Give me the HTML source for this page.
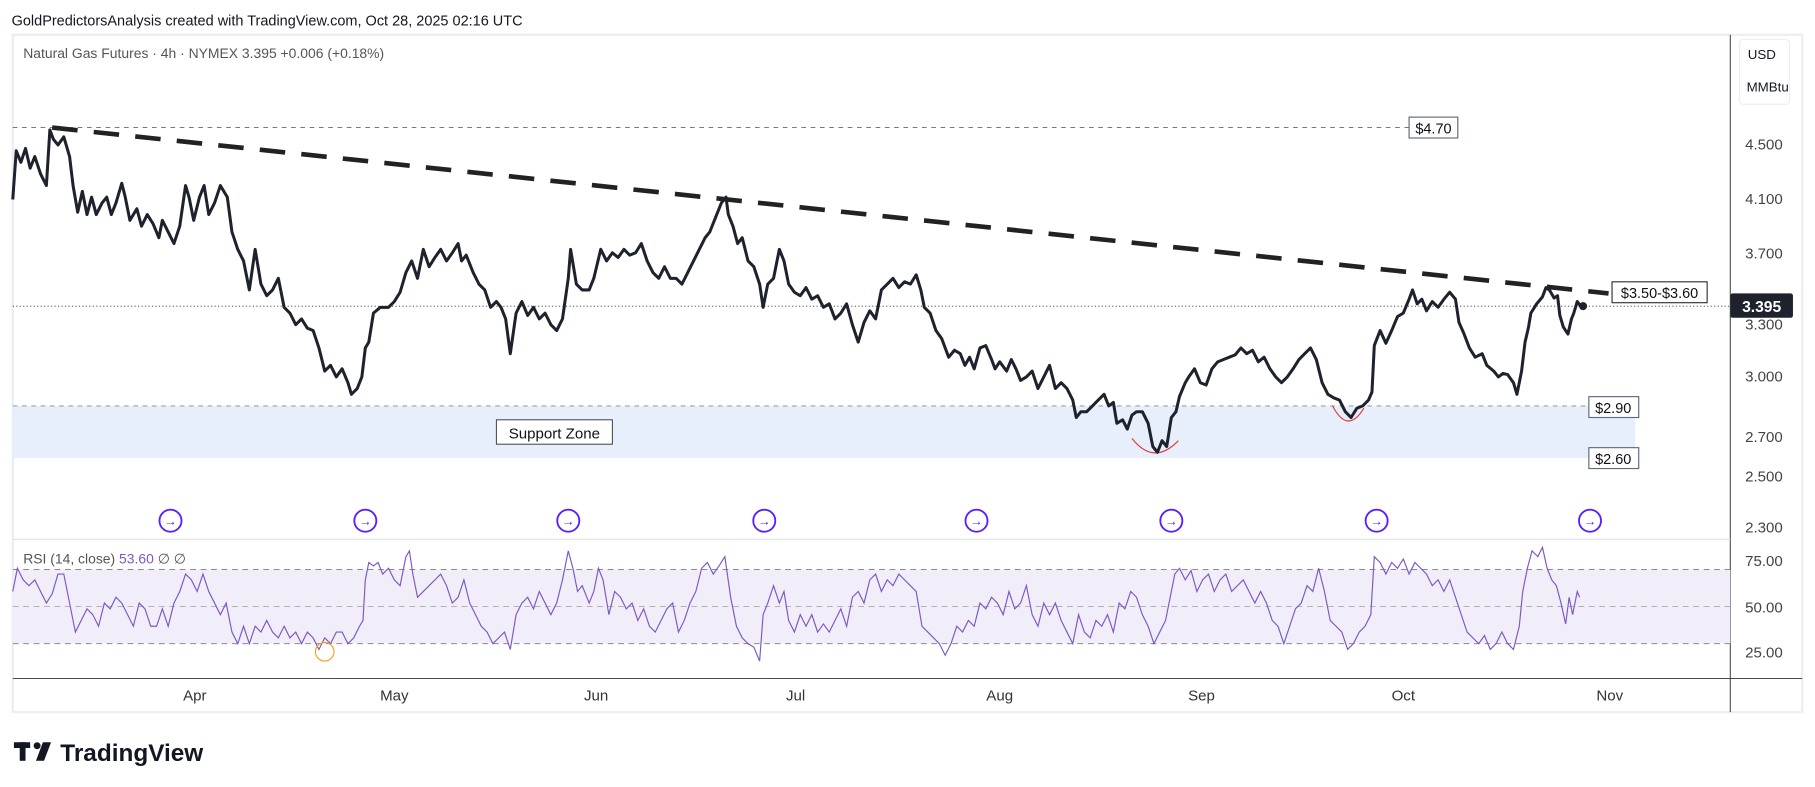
<!DOCTYPE html>
<html><head><meta charset="utf-8"><style>
html,body{margin:0;padding:0;background:#fff;}
svg{display:block;font-family:"Liberation Sans",sans-serif;}
</style></head><body>
<svg width="1815" height="787" viewBox="0 0 1565 678.6" xmlns="http://www.w3.org/2000/svg">
<rect width="1565" height="679" fill="#fff"/>
<text x="10" y="22" font-size="12.5" fill="#131722">GoldPredictorsAnalysis created with TradingView.com, Oct 28, 2025 02:16 UTC</text>
<!-- frame -->
<rect x="11" y="30" width="1543" height="584" fill="#fff" stroke="#eceef2" stroke-width="2"/>
<line x1="1492" y1="30" x2="1492" y2="614" stroke="#555" stroke-width="1"/>
<line x1="11" y1="465" x2="1492" y2="465" stroke="#e0e3eb" stroke-width="1"/>
<line x1="11" y1="585" x2="1554" y2="585" stroke="#333" stroke-width="0.8"/>
<text x="20" y="50" font-size="12" fill="#555">Natural Gas Futures · 4h · NYMEX  3.395  +0.006 (+0.18%)</text>
<!-- USD box -->
<rect x="1500" y="34" width="43" height="56" rx="3" fill="#fff" stroke="#eceef2"/>
<text x="1507" y="51" font-size="11.5" fill="#131722">USD</text>
<text x="1506" y="79" font-size="11.5" fill="#131722">MMBtu</text>
<!-- price labels -->
<g font-size="13" fill="#444" text-anchor="middle">
<text x="1521" y="129">4.500</text><text x="1521" y="176">4.100</text><text x="1521" y="223">3.700</text>
<text x="1521" y="284">3.300</text><text x="1521" y="329">3.000</text><text x="1521" y="381">2.700</text>
<text x="1521" y="415">2.500</text><text x="1521" y="459">2.300</text>
<text x="1521" y="488">75.00</text><text x="1521" y="528">50.00</text><text x="1521" y="567">25.00</text>
</g>
<!-- support zone -->
<rect x="11" y="350" width="1399" height="45" fill="#e8effc"/>
<line x1="11" y1="350" x2="1370" y2="350" stroke="#888" stroke-dasharray="4,4" stroke-width="0.8"/>
<rect x="428" y="362" width="100" height="21" fill="#fff" stroke="#333" stroke-width="0.8"/>
<text x="478" y="378" font-size="13" fill="#111" text-anchor="middle">Support Zone</text>
<rect x="1370" y="342" width="43" height="18" fill="#fff" stroke="#5d6b7e"/>
<text x="1391" y="356" font-size="12.5" fill="#111" text-anchor="middle">$2.90</text>
<rect x="1370" y="386" width="43" height="18" fill="#fff" stroke="#5d6b7e"/>
<text x="1391" y="400" font-size="12.5" fill="#111" text-anchor="middle">$2.60</text>
<!-- 4.70 line -->
<line x1="11" y1="110" x2="1215" y2="110" stroke="#666" stroke-dasharray="4,4" stroke-width="0.8"/>
<rect x="1215" y="101" width="42" height="18" fill="#fff" stroke="#5d6b7e"/>
<text x="1236" y="115" font-size="12.5" fill="#111" text-anchor="middle">$4.70</text>
<!-- last price line -->
<line x1="11" y1="264" x2="1492" y2="264" stroke="#333" stroke-dasharray="1,2" stroke-width="0.8"/>
<!-- trendline -->
<line x1="45" y1="110" x2="1387" y2="253" stroke="#222" stroke-width="4" stroke-dasharray="22,14"/>
<rect x="1390" y="243" width="82" height="18" fill="#fff" stroke="#333"/>
<text x="1431" y="257" font-size="12.5" fill="#111" text-anchor="middle">$3.50-$3.60</text>
<!-- smiles -->
<path d="M976,378 Q995,402 1016,380" fill="none" stroke="#e53935" stroke-width="1"/>
<path d="M1149,350 Q1162,375 1176,352" fill="none" stroke="#e53935" stroke-width="1"/>
<!-- price -->
<polyline fill="none" stroke="#1e222d" stroke-width="2.6" stroke-linejoin="round" points="11,172 14,130 18,140 22,128 26,145 30,135 35,150 40,160 43,112 46,120 50,125 55,118 60,135 63,160 67,183 71,165 75,185 79,170 83,185 88,175 92,170 96,185 100,175 105,158 108,170 112,190 118,180 122,195 127,185 132,193 137,205 140,190 145,200 150,210 155,195 160,160 163,170 167,190 172,170 176,160 180,185 185,175 190,160 196,170 200,200 205,215 210,225 215,250 220,215 225,245 230,255 235,250 240,240 245,265 250,270 255,280 260,275 265,283 270,285 275,300 280,320 285,315 290,325 295,318 300,330 303,340 308,335 312,325 315,300 318,295 322,270 328,265 335,265 340,260 345,252 350,235 355,225 360,240 365,215 370,230 375,222 380,215 385,225 390,218 395,210 398,225 402,220 408,235 413,245 418,250 423,265 428,260 432,265 436,275 440,305 445,270 450,260 455,272 460,265 465,275 470,270 475,280 480,285 485,275 490,240 492,215 497,245 502,250 508,250 512,240 518,215 523,225 528,218 533,222 538,215 543,220 548,218 553,210 558,225 563,235 568,240 573,230 578,240 583,240 588,245 593,235 598,225 603,215 608,205 612,200 618,185 622,175 626,170 628,185 632,195 636,210 640,205 645,225 650,230 655,245 658,265 662,245 667,240 672,215 676,225 680,245 685,252 690,255 695,248 700,258 705,255 710,265 715,262 720,275 725,270 730,262 735,280 740,295 745,278 750,268 755,275 760,250 765,245 770,240 775,248 780,243 785,245 790,237 794,250 797,265 802,270 807,285 812,292 818,308 823,302 828,305 832,315 836,308 840,318 845,300 850,298 855,310 858,318 862,312 868,320 872,310 876,318 880,328 885,325 890,320 895,335 900,325 905,315 910,335 915,330 920,335 925,345 928,360 932,355 937,355 942,350 947,345 952,340 956,350 960,347 963,365 968,362 972,370 976,358 980,355 985,355 990,365 994,385 998,390 1002,380 1006,385 1010,360 1014,355 1017,342 1022,330 1025,325 1030,318 1035,330 1040,332 1045,318 1050,312 1055,310 1060,308 1065,306 1070,300 1075,305 1080,302 1085,312 1090,308 1095,318 1100,325 1105,330 1110,325 1115,318 1120,310 1125,305 1130,300 1135,310 1140,330 1145,340 1150,343 1155,345 1160,355 1165,360 1170,352 1175,350 1180,345 1183,338 1185,298 1190,285 1195,296 1200,285 1205,273 1210,270 1215,258 1218,250 1222,262 1226,258 1230,268 1235,260 1240,265 1245,258 1250,252 1255,258 1258,278 1262,287 1267,300 1272,308 1278,305 1282,315 1288,320 1292,325 1296,322 1300,323 1305,330 1308,340 1312,320 1315,295 1318,282 1320,270 1325,262 1330,256 1333,248 1336,250 1340,257 1343,255 1345,272 1348,282 1352,288 1355,275 1357,270 1360,260 1363,264 1366,263"/>
<circle cx="1365" cy="264" r="3.5" fill="#1e222d"/>
<rect x="1492" y="253" width="54" height="21" rx="2" fill="#1e222d"/>
<text x="1519" y="269" font-size="13.5" font-weight="bold" fill="#fff" text-anchor="middle">3.395</text>
<!-- purple icons -->
<g fill="none" stroke="#5a1fff" stroke-width="1.6">
<circle cx="147" cy="449" r="9.5"/><circle cx="315" cy="449" r="9.5"/><circle cx="490" cy="449" r="9.5"/><circle cx="659" cy="449" r="9.5"/><circle cx="842" cy="449" r="9.5"/><circle cx="1010" cy="449" r="9.5"/><circle cx="1187" cy="449" r="9.5"/><circle cx="1371" cy="449" r="9.5"/>
</g>
<g fill="#5a1fff" font-size="11" font-weight="bold" text-anchor="middle">
<text x="147" y="453">→</text><text x="315" y="453">→</text><text x="490" y="453">→</text><text x="659" y="453">→</text><text x="842" y="453">→</text><text x="1010" y="453">→</text><text x="1187" y="453">→</text><text x="1371" y="453">→</text>
</g>
<!-- RSI -->
<rect x="11" y="491" width="1481" height="64" fill="#f1eef9"/>
<g stroke="#787b86" stroke-width="0.8" stroke-dasharray="5,4">
<line x1="11" y1="491" x2="1492" y2="491"/><line x1="11" y1="523" x2="1492" y2="523" stroke="#aaa"/><line x1="11" y1="555" x2="1492" y2="555"/>
</g>
<text x="20" y="486" font-size="12" fill="#555">RSI (14, close) <tspan fill="#7e57c2">53.60</tspan>  ∅  ∅</text>
<polyline fill="none" stroke="#7e57c2" stroke-width="1" points="11,510 15,490 20,500 25,505 30,500 35,510 40,520 45,512 50,495 55,495 60,520 65,545 70,535 75,525 80,530 85,540 90,520 95,525 100,515 105,520 110,530 115,540 120,520 125,525 130,540 135,540 140,525 145,540 150,520 155,510 160,495 165,500 170,510 175,495 180,510 185,520 190,530 195,520 200,545 205,555 210,540 215,555 220,540 225,545 230,535 235,545 240,550 245,540 250,550 255,545 260,555 265,545 270,550 275,560 280,550 285,555 290,545 295,545 300,555 305,550 310,540 313,535 315,500 318,485 322,488 326,485 330,495 335,490 340,500 345,505 350,480 353,475 356,495 360,515 365,510 370,505 375,500 380,495 385,505 390,520 395,515 400,500 405,520 410,530 415,540 420,545 425,555 430,550 435,545 440,560 445,530 450,520 455,515 460,525 465,510 470,520 475,530 480,520 485,500 490,475 494,490 498,510 502,505 508,520 512,510 516,490 520,500 525,530 530,510 535,515 540,525 545,520 550,535 555,525 560,540 565,545 570,535 575,525 580,520 585,545 590,535 595,520 600,510 605,490 610,485 615,495 620,488 625,480 630,515 635,540 640,550 645,555 650,558 655,570 658,530 662,520 667,505 672,520 676,510 680,535 685,545 690,530 695,540 700,530 705,545 710,538 715,545 720,535 725,525 730,540 735,515 740,510 745,520 750,500 755,495 760,510 765,500 770,505 775,495 780,500 785,505 790,510 795,540 800,545 805,550 810,555 815,565 820,555 825,540 830,545 835,535 840,540 845,520 850,525 855,515 860,520 865,530 870,510 875,525 880,520 885,505 890,530 895,540 900,520 905,530 910,520 915,535 920,545 925,555 930,530 935,545 940,550 945,535 950,540 955,530 960,545 965,520 970,525 975,510 980,515 985,530 990,540 995,555 1000,545 1005,535 1010,510 1013,495 1017,490 1022,500 1027,492 1032,510 1037,500 1042,495 1047,510 1052,500 1057,495 1062,510 1067,505 1072,500 1077,510 1082,520 1087,510 1092,520 1097,535 1102,540 1107,555 1112,540 1117,525 1122,520 1127,505 1132,510 1137,490 1142,510 1147,535 1152,540 1157,545 1162,560 1167,555 1172,545 1177,540 1182,530 1185,480 1190,485 1195,495 1200,485 1205,490 1210,482 1215,495 1220,485 1225,490 1230,495 1235,505 1240,500 1245,510 1250,500 1255,515 1260,530 1265,545 1270,550 1275,555 1280,548 1285,560 1290,555 1295,545 1300,555 1305,560 1310,540 1313,510 1317,490 1321,475 1326,480 1330,472 1334,490 1338,500 1342,505 1346,520 1350,538 1353,515 1356,530 1360,510 1362,515"/>
<circle cx="280" cy="562" r="8" fill="none" stroke="#f7a21b" stroke-width="1"/>
<!-- months -->
<g font-size="13" fill="#333" text-anchor="middle">
<text x="168" y="604">Apr</text><text x="340" y="604">May</text><text x="514" y="604">Jun</text><text x="686" y="604">Jul</text><text x="862" y="604">Aug</text><text x="1036" y="604">Sep</text><text x="1210" y="604">Oct</text><text x="1388" y="604">Nov</text>
</g>
<!-- logo -->
<g fill="#131722">
<rect x="12" y="640" width="14" height="5"/><rect x="17" y="640" width="5" height="16"/>
<circle cx="32" cy="643" r="3"/>
<path d="M37,640 L44,640 L38,656 L31,656 Z"/>
</g>
<text x="52" y="656" font-size="21" font-weight="bold" fill="#131722">TradingView</text>
</svg>
</body></html>
